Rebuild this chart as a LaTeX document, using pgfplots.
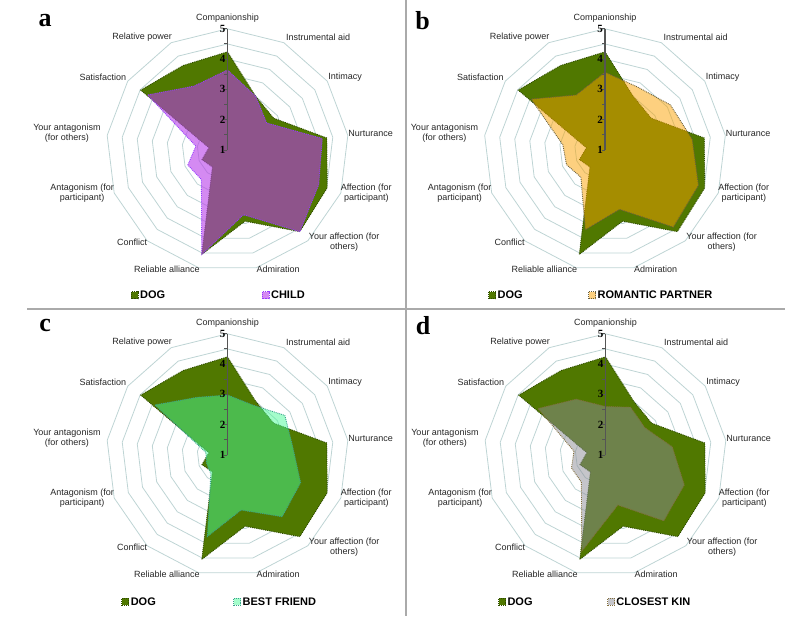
\documentclass[border=0pt]{standalone}
\usepackage{pgfplots}
\pgfplotsset{compat=1.18}
\usepackage{pgfplotstable}
\usepackage{fontspec}
\setmainfont{Liberation Sans}
\newfontfamily\serif{Liberation Serif}

\definecolor{dogc}{RGB}{80,120,0}
\definecolor{dogl}{RGB}{45,75,0}
\definecolor{childc}{RGB}{184,60,233}
\definecolor{childl}{RGB}{150,60,255}
\definecolor{partc}{RGB}{251,162,0}
\definecolor{partl}{RGB}{105,95,60}
\definecolor{friendc}{RGB}{73,252,152}
\definecolor{friendl}{RGB}{60,160,140}
\definecolor{kinc}{RGB}{140,140,150}
\definecolor{kinl}{RGB}{130,110,60}
\definecolor{ringc}{RGB}{190,212,212}
\definecolor{sepc}{RGB}{170,170,170}
\definecolor{raxc}{RGB}{85,85,85}

% spoke directions (clockwise from Companionship at the top), then mean scores 1-5
% last row repeats the first to close the polygons
\pgfplotstableread{
ux       uy       dog   child partner friend kin
 0.0000  1.0000   4.24  3.64  3.57    2.98   2.60
 0.4647  0.8855   3.00  3.00  3.34    2.85   2.78
 0.8230  0.5681   2.85  2.57  3.62    3.30   2.58
 0.9927  0.1205   4.30  4.15  3.90    3.17   3.22
 0.9350 -0.3546   4.52  4.22  4.30    3.58   3.78
 0.6631 -0.7485   4.60  4.60  4.40    3.72   3.90
 0.2393 -0.9709   3.42  3.20  3.02    2.87   2.70
-0.2393 -0.9709   4.55  4.55  3.71    3.77   4.27
-0.6631 -0.7485   1.75  2.30  2.20    1.83   2.20
-0.9350 -0.3546   1.90  2.40  2.36    1.74   2.20
-0.9927  0.1205   1.62  2.05  2.40    1.72   2.05
-0.8230  0.5681   4.48  4.20  3.96    3.91   3.70
-0.4647  0.8855   4.15  3.38  3.05    3.15   3.08
 0.0000  1.0000   4.24  3.64  3.57    2.98   2.60
}\radar

\pgfplotsset{
  table/sc/.style={x expr=(\thisrow{#1}-1)*\thisrow{ux}, y expr=(\thisrow{#1}-1)*\thisrow{uy}},
  radarax/.style={anchor=center, x=30.3pt, y=30.3pt,
    xmin=-4.5, xmax=4.5, ymin=-4.5, ymax=4.5,
    hide axis, clip=false,
    legend columns=2,
    legend image code/.code={\draw[##1] (0pt,-3.5pt) rectangle (7pt,3.5pt);},
    legend style={draw=none, fill=none, inner sep=0pt, anchor=west,
      font=\fontsize{11}{13}\selectfont\bfseries, nodes={inner sep=1.5pt}}},
  ring/.style={ringc, line width=0.8pt, forget plot},
  dog/.style={fill=dogc, draw=dogl, densely dotted, line width=0.9pt},
  other/.style={fill=#1c, fill opacity=0.5, draw=#1l, densely dotted, line width=0.9pt},
}
\tikzset{
  lab/.style={font=\fontsize{9}{10.5}\selectfont, align=center, inner sep=0pt, text=black!85},
  rnum/.style={font=\serif\bfseries\fontsize{11}{12}\selectfont, anchor=east, inner sep=0.5pt, xshift=-1.5pt, text=black},
}

\newcommand\rings{%
  \pgfplotsinvokeforeach{0.5,1,...,4}{%
    \addplot[ring] table[x expr=##1*\thisrow{ux}, y expr=##1*\thisrow{uy}] {\radar};}}

% radial value axis on the Companionship spoke, drawn after the areas
\newcommand\radarframe[1]{%
  \addplot[raxc, line width=1.4pt, forget plot] coordinates {(0,0) (0,4)};
  \addplot[raxc, line width=1pt, forget plot, only marks, mark=-, mark size=1.5pt]
    coordinates {(-0.05,0) (-0.05,0.5) (-0.05,1) (-0.05,1.5) (-0.05,2)
                 (-0.05,2.5) (-0.05,3) (-0.05,3.5) (-0.05,4)};
  \addplot[forget plot, only marks, mark=none, nodes near coords,
    point meta=explicit symbolic, nodes near coords style={rnum}]
    coordinates {(0,0) [1] (0,1) [2] (0,2) [3] (0,3) [4] (0,4) [5]};
  \node[lab] at (axis cs:0,4.36) {Companionship};
  \node[lab] at (axis cs:2.99,3.73) {Instrumental aid};
  \node[lab] at (axis cs:3.88,2.41) {Intimacy};
  \node[lab] at (axis cs:4.72,0.56) {Nurturance};
  \node[lab] at (axis cs:4.58,-1.42) {Affection (for\\participant)};
  \node[lab] at (axis cs:3.85,-3.04) {Your affection (for\\others)};
  \node[lab] at (axis cs:1.67,-3.93) {Admiration};
  \node[lab] at (axis cs:-2.0,-3.93) {Reliable alliance};
  \node[lab] at (axis cs:-3.15,-3.04) {Conflict};
  \node[lab] at (axis cs:-4.80,-1.42) {Antagonism (for\\participant)};
  \node[lab] at (axis cs:-5.30,0.56) {Your antagonism\\(for others)};
  \node[lab] at (axis cs:-4.11,2.41) {Satisfaction};
  \node[lab] at (axis cs:-2.82,3.73) {Relative power};
  \node[font=\serif\bfseries\fontsize{26}{28}\selectfont, inner sep=0pt] at (axis cs:-6.02,4.27) {#1};
}

\begin{document}
\begin{tikzpicture}
\useasboundingbox (0,0) rectangle (800pt,-616pt);

\begin{axis}[radarax, at={(227.5pt,-150pt)},
    legend style={at={(axis cs:-3.2,-4.79)}, /tikz/every even column/.append style={column sep=95pt}}]
  \rings
  \addplot[dog] table[sc=dog] {\radar};
  \addlegendentry{DOG}
  \addplot[other=child, fill opacity=0.6] table[sc=child] {\radar};
  \addlegendentry{CHILD}
  \radarframe{a}
\end{axis}

\begin{axis}[radarax, at={(605pt,-150pt)},
    legend style={at={(axis cs:-3.86,-4.79)}, /tikz/every even column/.append style={column sep=64pt}}]
  \rings
  \addplot[dog] table[sc=dog] {\radar};
  \addlegendentry{DOG}
  \addplot[other=part] table[sc=partner] {\radar};
  \addlegendentry{ROMANTIC PARTNER}
  \radarframe{b}
\end{axis}

\begin{axis}[radarax, at={(227.5pt,-455pt)},
    legend style={at={(axis cs:-3.51,-4.85)}, /tikz/every even column/.append style={column sep=76pt}}]
  \rings
  \addplot[dog] table[sc=dog] {\radar};
  \addlegendentry{DOG}
  \addplot[other=friend] table[sc=friend] {\radar};
  \addlegendentry{BEST FRIEND}
  \radarframe{c}
\end{axis}

\begin{axis}[radarax, at={(605.5pt,-455pt)},
    legend style={at={(axis cs:-3.55,-4.85)}, /tikz/every even column/.append style={column sep=73pt}}]
  \rings
  \addplot[dog] table[sc=dog] {\radar};
  \addlegendentry{DOG}
  \addplot[other=kin] table[sc=kin] {\radar};
  \addlegendentry{CLOSEST KIN}
  \radarframe{d}
\end{axis}

\draw[sepc, line width=1.6pt] (406pt,0pt) -- (406pt,-616pt);
\draw[sepc, line width=1.6pt] (27pt,-309pt) -- (785pt,-309pt);
\end{tikzpicture}
\end{document}
